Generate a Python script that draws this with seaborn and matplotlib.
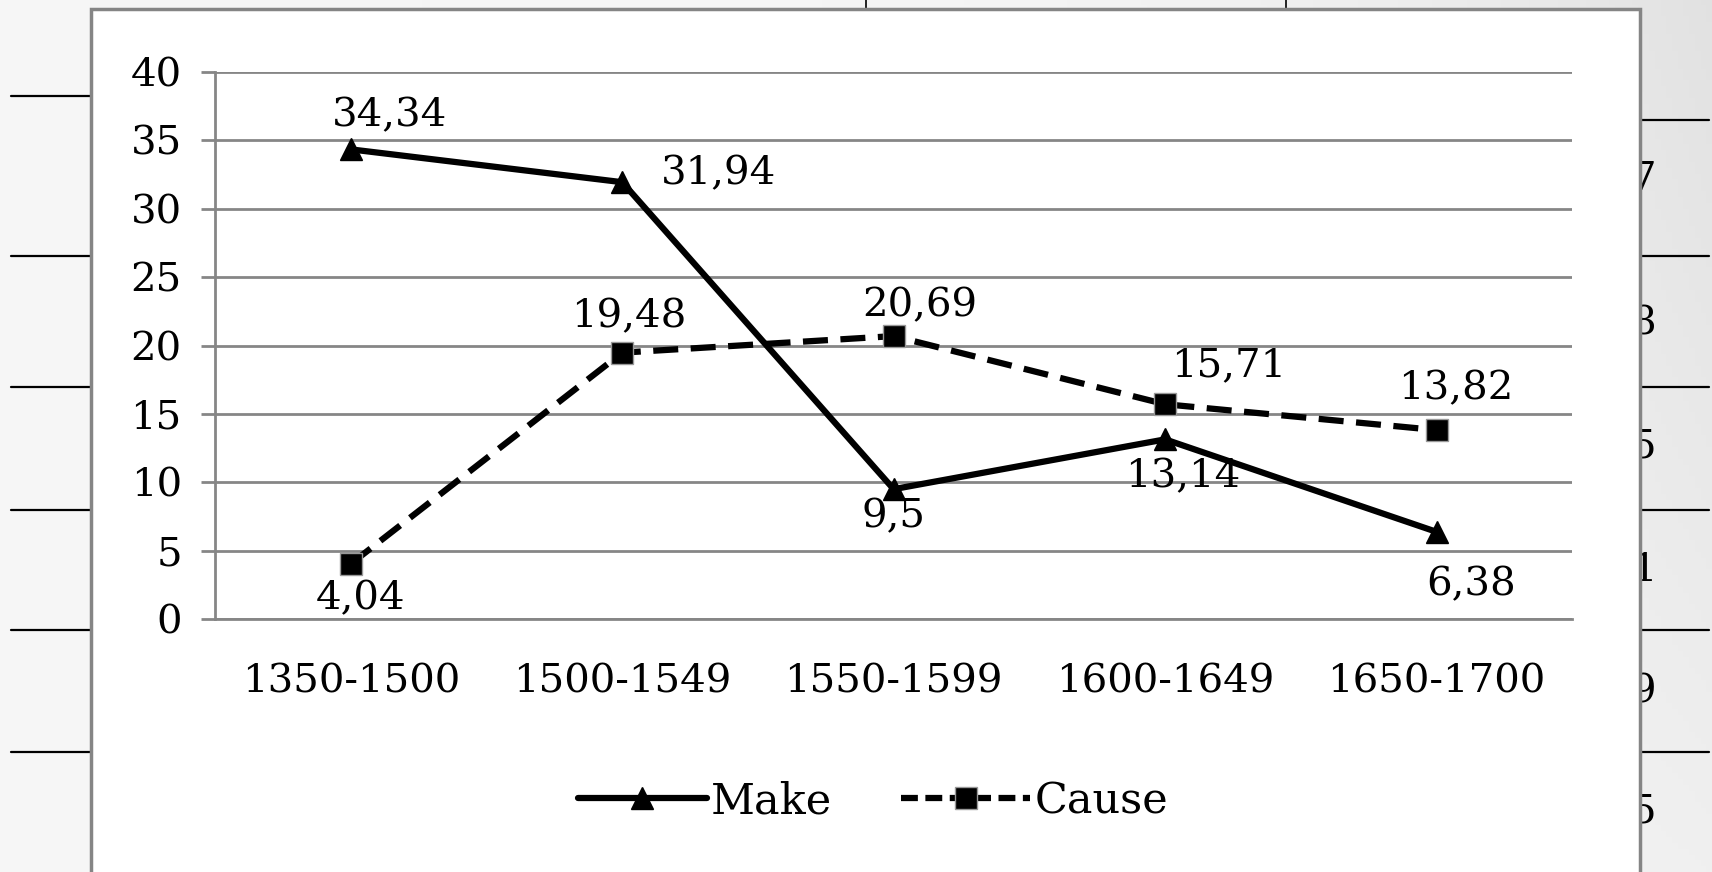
import numpy as np
import pandas as pd
import matplotlib
matplotlib.use("Agg")
import matplotlib.pyplot as plt
import seaborn as sns
from matplotlib.lines import Line2D
from matplotlib.patches import Rectangle

# chart data
periods = ["1350-1500", "1500-1549", "1550-1599", "1600-1649", "1650-1700"]
make_vals = [34.34, 31.94, 9.5, 13.14, 6.38]
cause_vals = [4.04, 19.48, 20.69, 15.71, 13.82]
series_names = ["Make", "Cause"]

# where the value labels sit relative to each point (points)
make_offsets = [(28, 24), (69, 6), (0, -20), (13, -27), (25, -38)]
cause_offsets = [(7, -25), (5, 26), (19, 22), (46, 28), (14, 30)]

df = pd.DataFrame({
    "period": periods * 2,
    "value": make_vals + cause_vals,
    "series": [series_names[0]] * 5 + [series_names[1]] * 5,
})

sns.set_theme(style="white")
plt.rcParams["font.family"] = ["DejaVu Serif"]
plt.rcParams["text.color"] = "black"
plt.rcParams["xtick.color"] = "black"
plt.rcParams["ytick.color"] = "black"
FS = 29

W, H = 1568.0, 800.0  # layout measured on a 1568x800 view
fig = plt.figure(figsize=(17.12, 8.72), dpi=100)

# slide background: soft grey gradient, darker towards bottom right
bg = fig.add_axes([0, 0, 1, 1], zorder=-5)
gx, gy = np.meshgrid(np.linspace(0, 1, 300), np.linspace(1, 0, 150))
shade = 0.965 - 0.08 * (gx ** 4) * (0.3 + 0.7 * gy)
bg.imshow(np.dstack([shade] * 3), aspect="auto", extent=[0, 1, 0, 1])
bg.set_xlim(0, 1)
bg.set_ylim(0, 1)
bg.axis("off")

# slide table lines peeking out behind the chart
for y in [88, 235, 355, 468, 578, 690]:
    fig.add_artist(Line2D([10 / W, 83 / W], [1 - y / H] * 2, color="black", lw=1.6, zorder=-1))
for y in [110, 235, 355, 468, 578, 690]:
    fig.add_artist(Line2D([1502 / W, 1565 / W], [1 - y / H] * 2, color="black", lw=1.6, zorder=-1))
for x in [793, 1178]:
    fig.add_artist(Line2D([x / W] * 2, [1 - 8 / H, 1], color="black", lw=1.2, zorder=-1))
for y, d in zip([165, 297, 410, 523, 635, 745], ["7", "8", "5", "1", "9", "5"]):
    fig.text(1517 / W, 1 - y / H, d, fontsize=FS, ha="right", va="center", zorder=-1)

# white chart box
fig.add_artist(Rectangle((83 / W, -0.01), (1502 - 83) / W, 1 - 8 / H + 0.01,
                         transform=fig.transFigure, facecolor="white",
                         edgecolor="#858585", lw=2.5, zorder=0))

ax = fig.add_axes([197 / W, 1 - 568 / H, (1440 - 197) / W, (568 - 66) / H], zorder=2)
ax.patch.set_alpha(0)

sns.lineplot(data=df, x="period", y="value", style="series", color="black",
             markers={"Make": "^", "Cause": "s"},
             dashes={"Make": "", "Cause": (4, 2)},
             lw=4.5, markersize=16, markeredgecolor="#999999",
             markeredgewidth=1.0, ax=ax, legend=False, zorder=3)
for ln in ax.lines:
    if ln.get_marker() == "^":
        ln.set_markeredgecolor("black")

for i, (v, off) in enumerate(zip(make_vals, make_offsets)):
    ax.annotate(f"{v:g}".replace(".", ","), (i, v), xytext=off, textcoords="offset points",
                ha="center", va="center", fontsize=FS)
for i, (v, off) in enumerate(zip(cause_vals, cause_offsets)):
    ax.annotate(f"{v:g}".replace(".", ","), (i, v), xytext=off, textcoords="offset points",
                ha="center", va="center", fontsize=FS)

ax.set_xlim(-0.5, 4.5)
ax.set_ylim(0, 40)
ax.set_yticks(range(0, 41, 5))
ax.yaxis.grid(True, color="#868686", lw=2)
ax.xaxis.grid(False)
ax.set_axisbelow(True)
for s in ["top", "right"]:
    ax.spines[s].set_visible(False)
for s in ["left", "bottom"]:
    ax.spines[s].set_color("#868686")
    ax.spines[s].set_linewidth(2)
ax.set_xticks(np.arange(-0.5, 5, 1), minor=True)
ax.tick_params(axis="x", which="major", length=0, pad=32, labelsize=FS)
ax.tick_params(axis="x", which="minor", length=9, width=2, color="#868686", direction="out")
ax.tick_params(axis="y", length=10, width=2, color="#868686", labelcolor="black",
               pad=14, labelsize=FS, left=True)
ax.tick_params(axis="x", labelcolor="black")
ax.set_xlabel("")
ax.set_ylabel("")

handles = [
    Line2D([], [], color="black", lw=4.5, marker="^", markersize=16),
    Line2D([], [], color="black", lw=4.5, ls=(0, (2.7, 1.2)), marker="s", markersize=16,
           markeredgecolor="#999999"),
]
fig.legend(handles, series_names, loc="center", bbox_to_anchor=(0.51, 1 - 735 / H),
           ncol=2, frameon=False, fontsize=FS + 2, handlelength=3.0, handletextpad=0.1,
           columnspacing=1.6)

fig.savefig("out.png", dpi=100)
